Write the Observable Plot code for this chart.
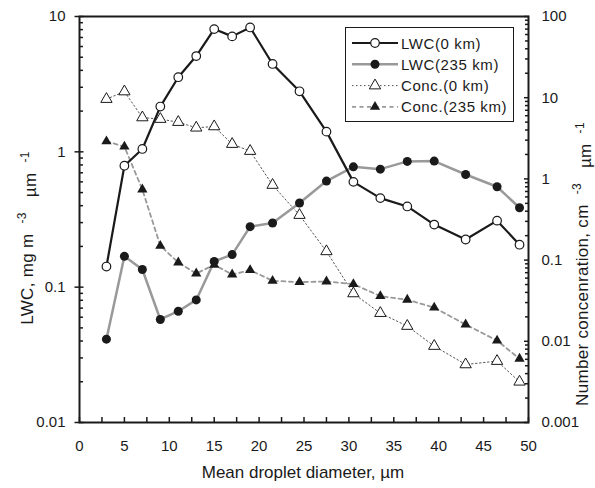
<!DOCTYPE html>
<html><head><meta charset="utf-8">
<script src="https://cdn.jsdelivr.net/npm/d3@7"></script>
<script src="https://cdn.jsdelivr.net/npm/@observablehq/plot@0.6"></script>
<style>body{margin:0;background:#fff} svg{display:block}</style>
</head><body><div id="chart"></div>
<script>
// Mean droplet diameter (µm)
const diameters = [3,5,7,9,11,13,15,17,19,21.5,24.5,27.5,30.5,33.5,36.5,39.5,43,46.5,49];
// LWC, mg m-3 µm-1 (left axis)
const lwc0   = [0.142,0.79,1.05,2.16,3.56,5.1,8.07,7.13,8.3,4.46,2.8,1.41,0.60,0.455,0.395,0.29,0.225,0.31,0.206];
const lwc235 = [0.0413,0.169,0.135,0.0577,0.0664,0.0805,0.155,0.174,0.28,0.298,0.419,0.608,0.775,0.745,0.85,0.854,0.68,0.552,0.386];
// Number concentration, cm-3 µm-1 (right axis)
const conc0   = [9.6,11.9,5.7,5.45,5.0,4.26,4.42,2.68,2.2,0.84,0.358,0.128,0.0388,0.0222,0.0154,0.00873,0.00518,0.0057,0.00317];
const conc235 = [2.9,2.5,0.74,0.15,0.0934,0.0684,0.0875,0.0665,0.0753,0.0556,0.0536,0.0545,0.0506,0.036,0.0325,0.026,0.0161,0.0102,0.0061];
// series names
const seriesNames = ["LWC(0 km)","LWC(235 km)","Conc.(0 km)","Conc.(235 km)"];
// tick labels
const xMajor = [0,5,10,15,20,25,30,35,40,45,50];
const leftMajor = [0.01,0.1,1,10];
const rightMajor = [0.001,0.01,0.1,1,10,100];

// right axis (0.001..100) mapped onto left axis (0.01..10)
const toLeft = v => Math.pow(10, -0.2 + 0.6*Math.log10(v));

const xMinor = d3.range(0, 50.01, 2.5);
const leftMinor = [];
[0.01,0.1,1].forEach(b => { for (let k = 2; k <= 9; k++) leftMinor.push(b*k); });
const rightMinor = [];
[0.001,0.01,0.1,1,10].forEach(b => { for (let k = 2; k <= 9; k++) rightMinor.push(toLeft(b*k)); });

const rows = diameters.map((d,i) => ({d, lwc0: lwc0[i], lwc235: lwc235[i], c0: toLeft(conc0[i]), c235: toLeft(conc235[i])}));

const ink = "#1a1a1a";
const font = "'Liberation Sans', Arial, sans-serif";

const chart = Plot.plot({
  width: 595, height: 488,
  marginLeft: 79, marginRight: 67, marginTop: 16, marginBottom: 66,
  style: {fontFamily: font, fontSize: "15px", color: ink, background: "#fff"},
  x: {type: "linear", domain: [0,50], label: null},
  y: {type: "log", domain: [0.01,10], label: null},
  marks: [
    // x axis
    Plot.axisX({ticks: xMinor, tickSize: 5, dy: -5, fill: "none", stroke: ink, strokeWidth: 1.5}),
    Plot.axisX({ticks: xMajor, tickSize: 0, tickPadding: 18, tickFormat: d => String(d), fill: ink}),
    // left axis
    Plot.axisY({ticks: leftMajor, tickSize: 9, dx: 4.5, fill: "none", stroke: ink, strokeWidth: 1.5}),
    Plot.axisY({ticks: leftMinor, tickSize: 4, dx: 4, fill: "none", stroke: ink, strokeWidth: 1.5}),
    Plot.axisY({ticks: leftMajor, tickSize: 0, tickPadding: 14, tickFormat: d => String(d), fill: ink}),
    // right axis
    Plot.axisY({anchor: "right", ticks: rightMajor.map(toLeft), tickSize: 5, dx: -5, fill: "none", stroke: ink, strokeWidth: 1.5}),
    Plot.axisY({anchor: "right", ticks: rightMinor, tickSize: 4, dx: -4, fill: "none", stroke: ink, strokeWidth: 1.5}),
    Plot.text(rightMajor, {y: d => toLeft(d), text: d => String(d), frameAnchor: "right", dx: 13, textAnchor: "start", fill: ink, fontSize: 15}),
    Plot.frame({stroke: ink, strokeWidth: 2}),
    // series
    Plot.line(rows, {x: "d", y: "c0", stroke: "#555", strokeWidth: 1, strokeDasharray: "1.5,2.5"}),
    Plot.line(rows, {x: "d", y: "c235", stroke: "#999", strokeWidth: 1.8, strokeDasharray: "4,3.5"}),
    Plot.line(rows, {x: "d", y: "lwc235", stroke: "#999", strokeWidth: 2.5}),
    Plot.line(rows, {x: "d", y: "lwc0", stroke: ink, strokeWidth: 2.2}),
    Plot.dot(rows, {x: "d", y: "c0", symbol: "triangle", r: 4.2, fill: "white", stroke: ink, strokeWidth: 1}),
    Plot.dot(rows, {x: "d", y: "c235", symbol: "triangle", r: 3.8, fill: ink}),
    Plot.dot(rows, {x: "d", y: "lwc235", r: 4.5, fill: ink}),
    Plot.dot(rows, {x: "d", y: "lwc0", r: 4.3, fill: "white", stroke: ink, strokeWidth: 1.2})
  ]
});
document.getElementById("chart").appendChild(chart);

const svg = d3.select(chart);
// axis titles
svg.append("text").attr("x", 303).attr("y", 478).attr("text-anchor", "middle")
  .attr("font-family", font).attr("font-size", 17).attr("fill", ink)
  .text("Mean droplet diameter, µm");

function rotTitle(x, y, parts) {
  const t = svg.append("text").attr("transform", `translate(${x},${y}) rotate(-90)`)
    .attr("text-anchor", "middle").attr("font-family", font).attr("font-size", 17)
    .attr("letter-spacing", 0.3).attr("fill", ink);
  parts.forEach(([s, sup], i) => {
    t.append("tspan").attr("dy", sup ? "-0.6em" : (i ? "0.6em" : 0))
      .attr("font-size", sup ? 12 : 17).text(s);
  });
}
function titleParts(main, a, mid, b) {
  return [[main, false], [a, true], [mid, false], [b, true]];
}
rotTitle(33, 238, titleParts("LWC, mg m  ", "-3", "   µm  ", "-1"));
rotTitle(588, 264, titleParts("Number concenration, cm  ", "-3", "   µm  ", "-1"));

// legend
const lg = svg.append("g").attr("font-family", font).attr("font-size", 15).attr("fill", ink)
  .attr("text-anchor", "start");
lg.append("rect").attr("x", 345.5).attr("y", 27.5).attr("width", 168).attr("height", 94)
  .attr("fill", "white").attr("stroke", ink).attr("stroke-width", 1);
const styles = [
  {stroke: ink, w: 2.2, dash: null, sym: d3.symbolCircle, r: 4.3, fill: "white", sw: 1.2},
  {stroke: "#999", w: 2.5, dash: null, sym: d3.symbolCircle, r: 4.5, fill: ink, sw: 0},
  {stroke: "#555", w: 1, dash: "1.5,2.5", sym: d3.symbolTriangle, r: 4.2, fill: "white", sw: 1},
  {stroke: "#999", w: 1.8, dash: "4,3.5", sym: d3.symbolTriangle, r: 3.8, fill: ink, sw: 0}
];
seriesNames.forEach((name, i) => {
  const y = 43 + i*21.3, s = styles[i];
  lg.append("line").attr("x1", 352).attr("x2", 398).attr("y1", y).attr("y2", y)
    .attr("stroke", s.stroke).attr("stroke-width", s.w).attr("stroke-dasharray", s.dash);
  lg.append("path").attr("d", d3.symbol(s.sym, Math.PI*s.r*s.r)()).attr("transform", `translate(375,${y})`)
    .attr("fill", s.fill).attr("stroke", s.sw ? ink : "none").attr("stroke-width", s.sw);
  lg.append("text").attr("x", 401).attr("y", y + 5.5).attr("letter-spacing", 0.6).text(name);
});
</script></body></html>
